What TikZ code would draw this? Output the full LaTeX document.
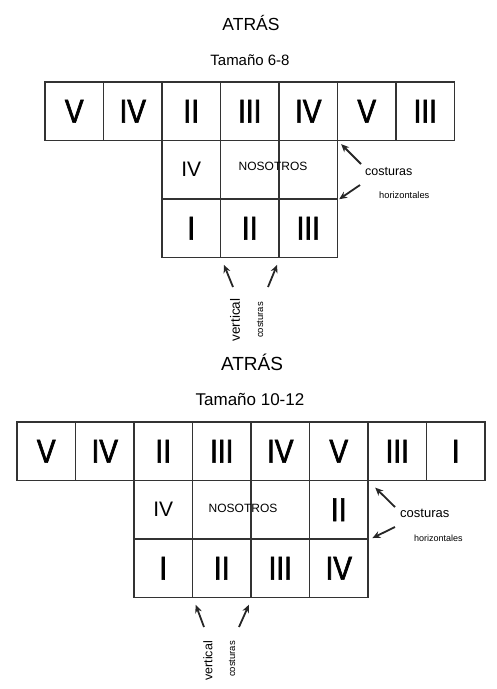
\documentclass[tikz,border=0pt]{standalone}
\usepackage{fontspec}
\setmainfont{Liberation Sans}
\newfontfamily\romanfont[FakeStretch=0.85,FakeBold=2]{Liberation Sans}
\usetikzlibrary{arrows.meta}
\newcommand{\smallroman}[1]{{\rmfamily\fontsize{21}{21}\selectfont #1}}

\begin{document}
\begin{tikzpicture}[x=1pt,y=-1pt,
    cell/.style={draw=black!80,line width=1.6pt,minimum width=58.5pt,minimum height=58.5pt,
      inner sep=0pt,font=\romanfont\fontsize{33}{33}\selectfont},
    seam/.style={line width=1.8pt,black!85,-{Stealth[length=8pt,width=7pt]}},
    note/.style={inner sep=0pt,font=\fontsize{12.5}{12.5}\selectfont}]
    \useasboundingbox (0,0) rectangle (497,689);
    % Size 6-8
    \node[anchor=base,font=\fontsize{17.5}{17.5}\selectfont] (title1) at (251,30) {ATRÁS};
    \node[anchor=base,font=\fontsize{15}{15}\selectfont] (size1) at (250,65) {Tamaño 6-8};
    \foreach \t [count=\i] in {V,IV,II,III,IV,V,III}
        \node[cell] (a\i) at ({45+58.5*(\i-0.5)},111.25) {\t};
    \foreach \t [count=\i] in {{\smallroman{IV}},{},{}}
        \node[cell] (m\i) at ({45+58.5*(\i+1.5)},169.75) {\t};
    \foreach \t [count=\i] in {I,II,III}
        \node[cell] (r\i) at ({45+58.5*(\i+1.5)},228.25) {\t};
    \node[anchor=base,note,font=\fontsize{12}{12}\selectfont] (us1) at (273,170) {NOSOTROS};
    % horizontal seams
    \node[anchor=base west,note] (cs1) at (365,175) {costuras};
    \node[anchor=base west,note,font=\fontsize{9.3}{9.3}\selectfont] (hz1) at (379,198) {horizontales};
    \coordinate (h1a) at (361,164);
    \coordinate (h1b) at (360,185);
    \draw[seam,shorten >=4pt] (h1a) -- (a5.south east);
    \draw[seam,shorten >=1pt] (h1b) -- (m3.south east);
    % vertical seams
    \node[rotate=90,note,font=\fontsize{13.5}{13.5}\selectfont] (vt1) at (235,320) {vertical};
    \node[rotate=90,note,font=\fontsize{9.5}{9.5}\selectfont] (cv1) at (260,320) {costuras};
    \coordinate (v1a) at (233,287);
    \coordinate (v1b) at (268,287);
    \draw[seam,shorten >=7pt] (v1a) -- (r1.south east);
    \draw[seam,shorten >=7pt] (v1b) -- (r2.south east);

    % Size 10-12
    \node[anchor=base,font=\fontsize{19}{19}\selectfont] (title2) at (252,370) {ATRÁS};
    \node[anchor=base,font=\fontsize{17}{17}\selectfont] (size2) at (250,405) {Tamaño 10-12};
    \foreach \t [count=\i] in {V,IV,II,III,IV,V,III,I}
        \node[cell] (b\i) at ({17+58.5*(\i-0.5)},451.25) {\t};
    \foreach \t [count=\i] in {{\smallroman{IV}},{},{},II}
        \node[cell] (n\i) at ({17+58.5*(\i+1.5)},509.75) {\t};
    \foreach \t [count=\i] in {I,II,III,IV}
        \node[cell] (s\i) at ({17+58.5*(\i+1.5)},568.25) {\t};
    \node[anchor=base,note,font=\fontsize{12}{12}\selectfont] (us2) at (243,512) {NOSOTROS};
    % horizontal seams
    \node[anchor=base west,note,font=\fontsize{13}{13}\selectfont] (cs2) at (400,517) {costuras};
    \node[anchor=base west,note,font=\fontsize{9}{9}\selectfont] (hz2) at (414,541) {horizontales};
    \coordinate (h2a) at (395,507);
    \coordinate (h2b) at (395,527);
    \draw[seam,shorten >=9pt] (h2a) -- (b6.south east);
    \draw[seam,shorten >=4pt] (h2b) -- (n4.south east);
    % vertical seams
    \node[rotate=90,note,font=\fontsize{12.5}{12.5}\selectfont] (vt2) at (208,661) {vertical};
    \node[rotate=90,note,font=\fontsize{9.5}{9.5}\selectfont] (cv2) at (232,659) {costuras};
    \coordinate (v2a) at (204,627);
    \coordinate (v2b) at (239,627);
    \draw[seam,shorten >=7pt] (v2a) -- (s1.south east);
    \draw[seam,shorten >=7pt] (v2b) -- (s2.south east);
\end{tikzpicture}
\end{document}
